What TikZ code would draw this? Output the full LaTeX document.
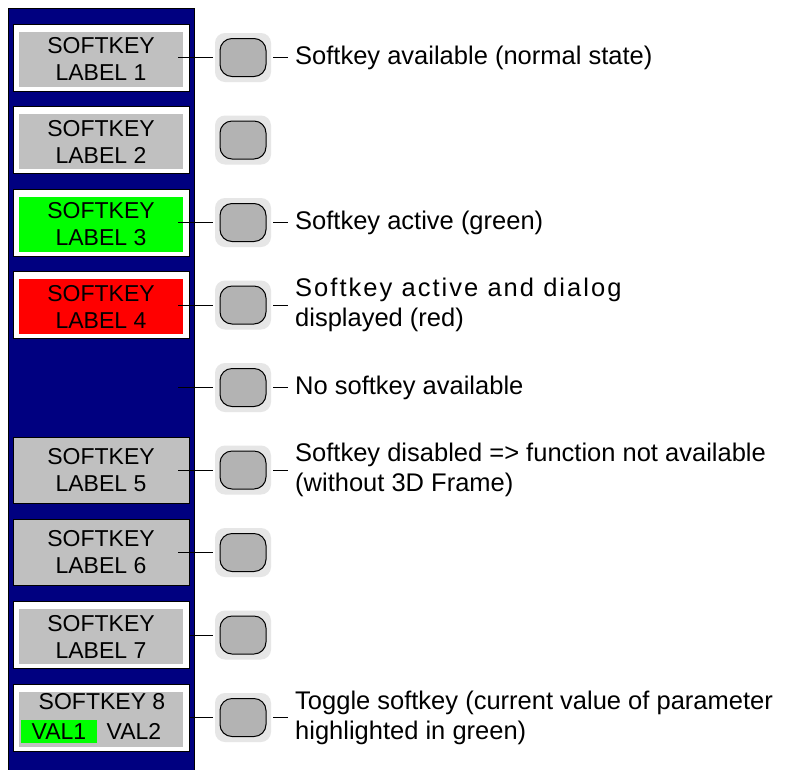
\documentclass[tikz,border=0pt]{standalone}
\usepackage{fontspec}
\setmainfont{Liberation Sans}
\usetikzlibrary{positioning}

\definecolor{panelblue}{HTML}{000080}
\definecolor{skgray}{HTML}{C0C0C0}
\definecolor{btngray}{HTML}{B3B3B3}
\definecolor{halogray}{HTML}{E6E6E6}
\definecolor{skgreen}{HTML}{00FF00}
\definecolor{skred}{HTML}{FF0000}

\tikzset{
  skframe/.style={draw=black, fill=white, line width=0.8pt, minimum width=176pt, minimum height=67pt, inner sep=0pt},
  skface/.style={fill=skgray, minimum width=164pt, minimum height=55pt, inner sep=0pt, align=center, font=\fontsize{23}{27}\selectfont},
  skoff/.style={draw=black, fill=skgray, line width=0.8pt, minimum width=176pt, minimum height=66pt, inner sep=0pt, align=center, font=\fontsize{23}{27}\selectfont},
  halo/.style={fill=halogray, rounded corners=10pt, minimum width=56pt, minimum height=49pt, inner sep=0pt},
  btn/.style={draw=black, fill=btngray, line width=1pt, rounded corners=12pt, minimum width=46pt, minimum height=38pt, inner sep=0pt},
  desc/.style={anchor=west, align=left, inner sep=0pt, font=\fontsize{25.5}{30}\selectfont},
  lead/.style={line width=0.9pt},
}

\begin{document}
\begin{tikzpicture}[x=1pt, y=-1pt]
  \useasboundingbox (0,0) rectangle (792,769);
  \fill[white] (0,0) rectangle (792,769);
  \draw[fill=panelblue, line width=0.8pt] (8,8) rectangle (194,775);

  % buttons with halo
  \foreach \i in {1,...,9} {
    \node[halo] (h\i) at (243, {57.5+82.5*(\i-1)}) {};
    \node[btn] (b\i) at (h\i) {};
  }

  % softkeys
  \node[skframe] (sk1) at (101,57.5) {};
  \node[skface] (sf1) at ([yshift=-1.5pt]sk1) {SOFTKEY\\LABEL 1};
  \node[skframe] (sk2) at (101,140) {};
  \node[skface] (sf2) at ([yshift=-1.5pt]sk2) {SOFTKEY\\LABEL 2};
  \node[skframe] (sk3) at (101,222.5) {};
  \node[skface, fill=skgreen] (sf3) at ([yshift=-1.5pt]sk3) {SOFTKEY\\LABEL 3};
  \node[skframe] (sk4) at (101,305) {};
  \node[skface, fill=skred] (sf4) at ([yshift=-1.5pt]sk4) {SOFTKEY\\LABEL 4};
  \coordinate (sk5) at (178,387.5);
  \node[skoff] (sk6) at (101,470) {SOFTKEY\\LABEL 5};
  \node[skoff] (sk7) at (101,552.5) {SOFTKEY\\LABEL 6};
  \node[skframe] (sk8) at (101,635) {};
  \node[skface] (sf8) at ([yshift=-1.5pt]sk8) {SOFTKEY\\LABEL 7};
  \node[skframe] (sk9) at (101,717.5) {};
  \node[skface] (sf9) at ([yshift=-1.5pt]sk9) {};
  \node[font=\fontsize{23}{27}\selectfont, anchor=base, inner sep=0pt] (t9) at (102,709) {SOFTKEY 8};
  \node[fill=skgreen, minimum width=76pt, minimum height=23pt, inner sep=0pt,
        font=\fontsize{23}{27}\selectfont] (val1) at (59,731.5) {VAL1};
  \node[font=\fontsize{23}{27}\selectfont, inner sep=0pt] (val2) at (134,731.5) {VAL2};

  % leads from softkeys to buttons
  \foreach \k in {1,3,4,6,7}
    \draw[lead] ([xshift=-11pt]sk\k.east) -- ([xshift=-2pt]h\k.west);
  \draw[lead] (sk5) -- ([xshift=-2pt]h5.west);
  \draw[lead] (sk8.east) -- ([xshift=-2pt]h8.west);
  \draw[lead] (sk9.east) -- ([xshift=-2pt]h9.west);

  % descriptions
  \node[desc] (d1) at (295,57.5) {Softkey available (normal state)};
  \node[desc] (d3) at (295,222.5) {Softkey active (green)};
  \node[desc] (d4) at (295,305) {{\addfontfeature{LetterSpace=8}Softkey active and dialog}\\displayed (red)};
  \node[desc] (d5) at (295,387.5) {No softkey available};
  \node[desc] (d6) at (295,470) {Softkey disabled => function not available\\(without 3D Frame)};
  \node[desc] (d9) at (295,717.5) {Toggle softkey (current value of parameter\\highlighted in green)};

  \foreach \k in {1,3,4,5,6,9}
    \draw[lead] ([xshift=2pt]h\k.east) -- ([xshift=-7pt]d\k.west);
\end{tikzpicture}
\end{document}
